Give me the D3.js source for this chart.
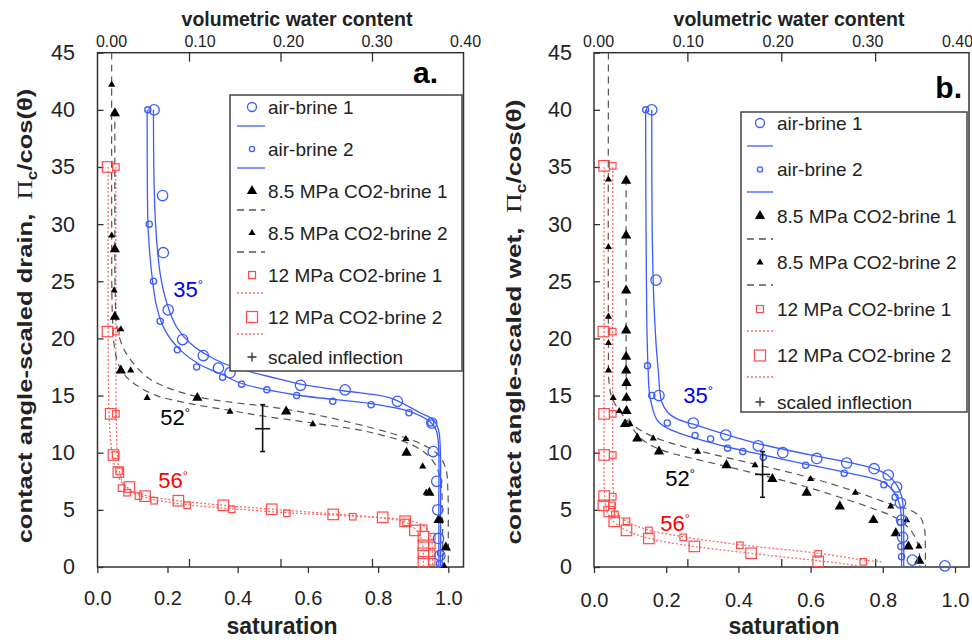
<!DOCTYPE html>
<html><head><meta charset="utf-8">
<script src="https://cdn.jsdelivr.net/npm/d3@7"></script>
<style>body{margin:0;background:#fff}svg{display:block}</style>
</head><body><svg id="chart" width="972" height="644"></svg>
<script>
// ---------------- DATA (saturation, scaled pressure) ----------------
const yTicks = [0,5,10,15,20,25,30,35,40,45];
const satTicks = [0,0.2,0.4,0.6,0.8,1.0];
const volTicks = [0,0.1,0.2,0.3,0.4];
const legendLabels = ["air-brine 1","air-brine 2","8.5 MPa CO2-brine 1","8.5 MPa CO2-brine 2","12 MPa CO2-brine 1","12 MPa CO2-brine 2","scaled inflection"];

// panel a (drain)
const aAir1 = [[0.162,40],[0.186,32.5],[0.188,27.5],[0.202,22.5],[0.243,19.9],[0.302,18.5],[0.345,17.4],[0.378,17.0],[0.579,15.9],[0.706,15.5],[0.855,14.5],[0.953,12.6],[0.957,10.1],[0.967,7.5],[0.970,5.0],[0.972,2.5],[0.976,1.0]];
const aAir2 = [[0.144,40],[0.148,30],[0.160,25],[0.179,21.5],[0.228,19.0],[0.283,17.5],[0.357,16.6],[0.411,16.0],[0.483,15.5],[0.568,15.0],[0.671,14.5],[0.78,14.2],[0.888,13.5],[0.95,12.6],[0.978,1.2],[0.975,0.3]];
const aCo2a = [[0.050,39.7],[0.050,27.8],[0.050,21.9],[0.067,17.2],[0.285,14.8],[0.538,13.6],[0.881,10.0],[0.946,6.5],[0.972,4.1],[0.993,1.7]];
const aCo2b = [[0.041,42.2],[0.041,29.0],[0.048,24.2],[0.067,20.8],[0.095,17.2],[0.142,14.8],[0.378,13.6],[0.614,12.5],[0.879,11.2],[0.927,8.8],[0.937,6.5],[0.978,4.1],[0.988,0.1]];
const aCo12a = [[0.053,35],[0.053,20.6],[0.053,13.4],[0.052,9.8],[0.062,8.4],[0.069,6.9],[0.085,6.5],[0.117,6.2],[0.162,5.8],[0.256,5.4],[0.383,5.05],[0.54,4.7],[0.728,4.4],[0.88,3.9],[0.93,3.4],[0.953,2.65],[0.953,1.9],[0.953,1.2],[0.953,0.46]];
const aCo12b = [[0.029,35],[0.029,20.6],[0.038,13.4],[0.046,9.8],[0.060,8.3],[0.091,7.0],[0.136,6.2],[0.231,5.8],[0.359,5.4],[0.497,5.05],[0.672,4.6],[0.813,4.35],[0.877,4.0],[0.905,3.2],[0.929,2.65],[0.929,1.9],[0.929,1.2],[0.929,0.46]];
const aFitAir1 = [[0.160,40],[0.1615,34],[0.167,29.5],[0.179,25.7],[0.198,23.1],[0.226,21.0],[0.264,19.6],[0.321,18.4],[0.388,17.5],[0.511,16.5],[0.579,16.0],[0.706,15.4],[0.834,14.8],[0.919,13.5],[0.957,12.9],[0.972,12.0],[0.977,10.5],[0.978,6],[0.978,0]];
const aFitAir2 = [[0.142,40],[0.1425,34],[0.145,29.5],[0.155,25.7],[0.169,22.8],[0.193,20.7],[0.236,19.0],[0.293,17.7],[0.359,16.8],[0.407,16.1],[0.568,15.05],[0.78,14.3],[0.891,13.6],[0.948,12.7],[0.965,12.0],[0.972,10.8],[0.973,6],[0.973,0]];
const aFitCo2a = [[0.050,40],[0.050,30],[0.051,24],[0.056,21],[0.066,19.8],[0.084,18.6],[0.131,16.9],[0.169,16.1],[0.285,14.9],[0.538,13.8],[0.70,12.8],[0.879,11.3],[0.94,10.5],[0.975,9.7],[0.993,8.6],[0.999,6.5],[1.0,3],[1.0,0]];
const aFitCo2b = [[0.041,45],[0.041,30],[0.043,22],[0.050,19],[0.062,17.6],[0.084,16.6],[0.112,15.9],[0.169,15.0],[0.264,14.3],[0.378,13.7],[0.473,13.2],[0.614,12.6],[0.745,12.0],[0.815,11.5],[0.88,10.9],[0.929,10.1],[0.962,9.0],[0.978,7.6],[0.983,5],[0.984,0]];
const aFitCo12a = [[0.053,35],[0.053,20],[0.054,13],[0.057,10],[0.064,8.2],[0.08,7.0],[0.117,6.3],[0.162,5.9],[0.256,5.45],[0.383,5.1],[0.54,4.75],[0.728,4.45],[0.88,4.1],[0.93,3.6],[0.95,2.7],[0.955,1.2],[0.955,0]];
const aFitCo12b = [[0.031,35],[0.031,20],[0.033,14],[0.040,10.5],[0.052,8.6],[0.07,7.4],[0.10,6.7],[0.14,6.25],[0.23,5.8],[0.36,5.4],[0.50,5.05],[0.67,4.65],[0.81,4.3],[0.875,3.95],[0.91,3.2],[0.925,2.2],[0.929,1],[0.929,0]];
const aInflection = [0.471, 12.1, 10.1, 14.2]; // s, value, low, high

// panel b (wet)
const bAir1 = [[0.160,40],[0.172,25.1],[0.180,15.0],[0.275,12.6],[0.365,11.55],[0.455,10.6],[0.523,10.0],[0.617,9.5],[0.700,9.1],[0.776,8.6],[0.815,8.05],[0.838,7.0],[0.849,5.6],[0.852,4.1],[0.855,2.6],[0.882,0.6],[0.972,0.1]];
const bAir2 = [[0.143,40],[0.148,17.6],[0.160,15.0],[0.203,12.6],[0.280,11.5],[0.323,11.2],[0.370,10.4],[0.412,10.1],[0.469,9.6],[0.586,8.9],[0.693,8.2],[0.803,7.2],[0.834,6.1],[0.849,3.9],[0.85,1.8],[0.852,0.9]];
const bCo2a = [[0.089,33.8],[0.089,29.0],[0.089,24.2],[0.089,20.7],[0.089,18.4],[0.089,17.2],[0.090,16.1],[0.090,14.8],[0.090,13.65],[0.086,12.5],[0.12,11.25],[0.18,10.1],[0.367,8.9],[0.494,7.7],[0.589,6.5],[0.681,5.3],[0.774,4.1],[0.836,2.95],[0.871,1.8],[0.901,0.55]];
const bCo2b = [[0.040,33.9],[0.040,28.0],[0.040,21.9],[0.040,19.6],[0.040,17.2],[0.053,14.8],[0.070,13.65],[0.100,12.5],[0.164,11.25],[0.287,10.1],[0.446,8.9],[0.60,7.7],[0.724,6.5],[0.822,5.3],[0.866,4.1],[0.90,1.8]];
const bCo12a = [[0.052,35.1],[0.052,20.6],[0.052,13.4],[0.052,9.8],[0.052,6.15],[0.05,5.4],[0.058,4.6],[0.090,4.0],[0.152,3.2],[0.247,2.6],[0.404,1.9],[0.621,1.15],[0.746,0.45]];
const bCo12b = [[0.028,35.1],[0.026,20.6],[0.028,13.4],[0.028,9.8],[0.028,6.2],[0.026,5.4],[0.042,4.85],[0.056,4.0],[0.090,3.2],[0.152,2.5],[0.278,1.8],[0.435,1.2],[0.621,0.5]];
const bFitAir1 = [[0.160,40],[0.161,30],[0.165,24],[0.172,19.5],[0.178,17.2],[0.187,14.5],[0.205,13.5],[0.235,12.9],[0.275,12.5],[0.365,11.6],[0.455,10.8],[0.617,9.7],[0.70,9.2],[0.776,8.6],[0.815,8.0],[0.838,7.2],[0.852,6.2],[0.857,5.0],[0.858,3],[0.858,0]];
const bFitAir2 = [[0.143,40],[0.144,30],[0.146,22],[0.150,17.2],[0.155,14.9],[0.174,12.9],[0.20,12.2],[0.238,11.7],[0.370,10.5],[0.469,9.8],[0.586,9.0],[0.693,8.3],[0.803,7.4],[0.834,6.4],[0.848,5.3],[0.852,3],[0.852,0]];
const bFitCo2a = [[0.089,34],[0.089,20],[0.090,15],[0.095,13.2],[0.11,12.0],[0.14,11.0],[0.19,10.2],[0.26,9.6],[0.367,8.8],[0.494,7.8],[0.589,7.0],[0.681,6.1],[0.774,5.1],[0.835,4.3],[0.875,3.3],[0.895,2.2],[0.902,1],[0.903,0]];
const bFitCo2b = [[0.040,45],[0.040,20],[0.042,16],[0.050,14.8],[0.07,13.7],[0.10,12.6],[0.164,11.4],[0.287,10.2],[0.446,9.0],[0.60,7.8],[0.724,6.6],[0.822,5.5],[0.875,5.0],[0.903,4.4],[0.915,3.4],[0.918,1.5],[0.918,0]];
const bFitCo12a = [[0.052,35],[0.052,10],[0.053,7],[0.058,5.3],[0.07,4.5],[0.09,4.0],[0.15,3.25],[0.247,2.65],[0.404,1.95],[0.621,1.2],[0.75,0.6],[0.797,0.45]];
const bFitCo12b = [[0.028,35],[0.028,10],[0.029,6.5],[0.035,5.0],[0.045,4.3],[0.06,3.8],[0.09,3.2],[0.152,2.5],[0.278,1.8],[0.435,1.2],[0.621,0.55],[0.70,0.25],[0.73,0.1]];
const bInflection = [0.467, 8.1, 6.1, 10.1];

// ---------------- STYLE / LAYOUT ----------------
const SANS = "'Liberation Sans', Arial, Helvetica, sans-serif";
const SERIF = "'Liberation Serif', 'Times New Roman', serif";
const BLUE = "#3d5cff", RED = "#ff4a4a", REDL = "#ff6a6a", DASH = "#555";
const svg = d3.select("#chart");
const y = d3.scaleLinear().domain([0,45]).range([567, 52.7]);

const panels = [
 {tag:"a.", tagX:438, tagY:83, frame:[97.5,52.7,463.5,567], sat:[97.3,448.3], vol:[97.5,463.5], volLab:[111,465],
  yLabX:75, yTitle:"contact angle-scaled drain,", yTitleX:25, yTitleY:316, yTitleLen:455,
  volTitleX:297, satTitleX:282, satLabY:597,
  air1:aAir1, air2:aAir2, co2a:aCo2a, co2b:aCo2b, c12a:aCo12a, c12b:aCo12b,
  fAir1:aFitAir1, fAir2:aFitAir2, fCo2a:aFitCo2a, fCo2b:aFitCo2b, f12a:aFitCo12a, f12b:aFitCo12b, infl:aInflection,
  lab35:[188,289], lab52:[175,417], lab56:[173,480],
  leg:{box:[230,95,462,371], mx:252, tx:268, lx:[237,265], rows:[107,149,191,233,275,317,357], lines:[126,168,210,252,293,334]}},
 {tag:"b.", tagX:962, tagY:98, frame:[594,52.7,969,567], sat:[594,955], vol:[593.5,969], volLab:[598,957],
  yLabX:572, yTitle:"contact angle-scaled wet,", yTitleX:514, yTitleY:322, yTitleLen:445,
  volTitleX:789, satTitleX:784, satLabY:599,
  air1:bAir1, air2:bAir2, co2a:bCo2a, co2b:bCo2b, c12a:bCo12a, c12b:bCo12b,
  fAir1:bFitAir1, fAir2:bFitAir2, fCo2a:bFitCo2a, fCo2b:bFitCo2b, f12a:bFitCo12a, f12b:bFitCo12b, infl:bInflection,
  lab35:[698,395], lab52:[680,478], lab56:[675,523],
  leg:{box:[741,112,967,412], mx:760, tx:777, lx:[747,773], rows:[123,169.5,216,262.5,309,355.5,402], lines:[146,192,239,285,331,377]}}
];

const triBig = d3.symbol(d3.symbolTriangle, 46)();
const triSmall = d3.symbol(d3.symbolTriangle, 22)();

function drawPanel(p){
  const g = svg.append("g");
  const xs = d3.scaleLinear().domain([0,1]).range(p.sat);
  const xv = d3.scaleLinear().domain([0,0.4]).range(p.vol);
  const xvl = d3.scaleLinear().domain([0,0.4]).range(p.volLab);
  const [L,T,R,B] = p.frame;

  // axes
  const yAx = g.append("g").attr("transform",`translate(${L},0)`)
    .call(d3.axisLeft(y).tickValues(yTicks).tickSize(-6).tickSizeOuter(0).tickPadding(L-p.yLabX));
  yAx.select(".domain").remove();
  const bAx = g.append("g").attr("transform",`translate(0,${B})`)
    .call(d3.axisBottom(xs).tickValues(satTicks).tickSize(6).tickSizeOuter(0).tickPadding(p.satLabY-B-12).tickFormat(d3.format(".1f")));
  bAx.select(".domain").remove();
  const bIn = g.append("g").attr("transform",`translate(0,${B})`)
    .call(d3.axisBottom(xv).tickValues([0.1,0.2,0.3]).tickSize(-8).tickFormat(""));
  bIn.select(".domain").remove();
  const tIn = g.append("g").attr("transform",`translate(0,${T})`)
    .call(d3.axisTop(xv).tickValues([0.1,0.2,0.3]).tickSize(-9).tickFormat(""));
  tIn.select(".domain").remove();
  const tLab = g.append("g").attr("transform",`translate(0,${T-6})`)
    .call(d3.axisTop(xvl).tickValues(volTicks).tickSize(0).tickPadding(0).tickFormat(d3.format(".2f")));
  tLab.select(".domain").remove();
  g.selectAll(".tick line").attr("stroke","#333").attr("stroke-width",1.3);
  yAx.selectAll("text").attr("font-size",21.5).attr("fill","#222").attr("font-family",SANS);
  bAx.selectAll("text").attr("font-size",20).attr("fill","#222").attr("font-family",SANS);
  tLab.selectAll("text").attr("font-size",16).attr("fill","#222").attr("font-family",SANS);

  g.append("rect").attr("x",L).attr("y",T).attr("width",R-L).attr("height",B-T)
    .attr("fill","none").attr("stroke","#333").attr("stroke-width",1.5);

  // titles
  g.append("text").attr("x",p.volTitleX).attr("y",26).attr("text-anchor","middle")
    .attr("font-family",SANS).attr("font-weight","bold").attr("font-size",19.5).attr("fill","#222").text("volumetric water content");
  g.append("text").attr("x",p.satTitleX).attr("y",634).attr("text-anchor","middle")
    .attr("font-family",SANS).attr("font-weight","bold").attr("font-size",23).attr("fill","#222").text("saturation");
  g.append("text").attr("x",p.tagX).attr("y",p.tagY).attr("text-anchor","end")
    .attr("font-family",SANS).attr("font-weight","bold").attr("font-size",30).attr("fill","#000").text(p.tag);

  const yt = g.append("g").attr("transform",`translate(${p.yTitleX},${p.yTitleY}) rotate(-90)`);
  const tt = yt.append("text").attr("text-anchor","middle").attr("dy","0.35em")
    .attr("font-family",SANS).attr("font-weight","bold").attr("font-size",21).attr("fill","#222");
  tt.append("tspan").text(p.yTitle+"\u00a0\u00a0");
  tt.append("tspan").attr("font-family",SERIF).attr("font-weight","normal").attr("font-size",22).text("\u03A0");
  tt.append("tspan").attr("font-size",14).attr("dy",5).text("c");
  tt.append("tspan").attr("dy",-5).text("/cos(\u03B8)");
  const len = tt.node().getComputedTextLength();
  tt.attr("transform",`scale(${p.yTitleLen/len},1)`);

  // fitted curves
  const line = d3.line().x(d=>xs(d[0])).y(d=>y(d[1])).curve(d3.curveCatmullRom.alpha(0.5));
  const curves = [
    [p.f12a, REDL, "2,2", 1.3],[p.f12b, REDL, "2,2", 1.3],
    [p.fCo2a, DASH, "7,5", 1.2],[p.fCo2b, DASH, "7,5", 1.2],
    [p.fAir1, BLUE, null, 1.3],[p.fAir2, BLUE, null, 1.3]];
  curves.forEach(([d,c,da,w])=>{
    g.append("path").datum(d).attr("d",line).attr("fill","none").attr("stroke",c)
     .attr("stroke-width",w).attr("stroke-dasharray",da);
  });

  // markers
  const sq = (data, s)=> g.append("g").selectAll("rect").data(data).join("rect")
    .attr("x",d=>xs(d[0])-s/2).attr("y",d=>y(d[1])-s/2).attr("width",s).attr("height",s)
    .attr("fill","none").attr("stroke",RED).attr("stroke-width",1.2);
  sq(p.c12b, 10.5); sq(p.c12a, 6.5);
  const tri = (data, path)=> g.append("g").selectAll("path").data(data).join("path")
    .attr("transform",d=>`translate(${xs(d[0])},${y(d[1])})`).attr("d",path).attr("fill","#000");
  tri(p.co2a, triBig); tri(p.co2b, triSmall);
  const circ = (data, r)=> g.append("g").selectAll("circle").data(data).join("circle")
    .attr("cx",d=>xs(d[0])).attr("cy",d=>y(d[1])).attr("r",r)
    .attr("fill","none").attr("stroke",BLUE).attr("stroke-width",1.3);
  circ(p.air1, 5.2); circ(p.air2, 3.1);

  // inflection
  const [is_, iv, ilo, ihi] = p.infl;
  const ig = g.append("g").attr("stroke","#111").attr("stroke-width",1.6);
  ig.append("line").attr("x1",xs(is_)).attr("x2",xs(is_)).attr("y1",y(ilo)).attr("y2",y(ihi));
  ig.append("line").attr("x1",xs(is_)-7.5).attr("x2",xs(is_)+7.5).attr("y1",y(iv)).attr("y2",y(iv));
  [ilo,ihi].forEach(v=>ig.append("line").attr("x1",xs(is_)-2.5).attr("x2",xs(is_)+2.5).attr("y1",y(v)).attr("y2",y(v)));

  // angle labels
  const angle = (pos, txt, col)=>{
    const t = g.append("text").attr("x",pos[0]).attr("y",pos[1]).attr("dy","0.35em").attr("text-anchor","middle")
      .attr("font-family",SANS).attr("font-size",22).attr("fill",col);
    t.append("tspan").text(txt);
    t.append("tspan").attr("font-size",13).attr("dy",-8).text("\u00b0");
  };
  angle(p.lab35,"35","#0000ee"); angle(p.lab52,"52","#000"); angle(p.lab56,"56","#ff0000");

  // legend
  const lg = p.leg;
  g.append("rect").attr("x",lg.box[0]).attr("y",lg.box[1]).attr("width",lg.box[2]-lg.box[0]).attr("height",lg.box[3]-lg.box[1])
    .attr("fill","#fff").attr("stroke","#444").attr("stroke-width",1.5);
  legendLabels.forEach((lab,i)=>{
    g.append("text").attr("x",lg.tx).attr("y",lg.rows[i]).attr("dy","0.36em")
      .attr("font-family",SANS).attr("font-size",19).attr("fill","#222").text(lab);
  });
  const mx = lg.mx, r = lg.rows;
  g.append("circle").attr("cx",mx).attr("cy",r[0]).attr("r",4.5).attr("fill","none").attr("stroke",BLUE).attr("stroke-width",1.3);
  g.append("circle").attr("cx",mx).attr("cy",r[1]).attr("r",2.6).attr("fill","none").attr("stroke",BLUE).attr("stroke-width",1.3);
  g.append("path").attr("transform",`translate(${mx},${r[2]})`).attr("d",triBig).attr("fill","#000");
  g.append("path").attr("transform",`translate(${mx},${r[3]})`).attr("d",triSmall).attr("fill","#000");
  g.append("rect").attr("x",mx-3.5).attr("y",r[4]-3.5).attr("width",7).attr("height",7).attr("fill","none").attr("stroke",RED).attr("stroke-width",1.2);
  g.append("rect").attr("x",mx-5.5).attr("y",r[5]-5.5).attr("width",11).attr("height",11).attr("fill","none").attr("stroke",RED).attr("stroke-width",1.2);
  g.append("path").attr("d",`M${mx-4.5},${r[6]}H${mx+4.5}M${mx},${r[6]-4.5}V${r[6]+4.5}`).attr("stroke","#333").attr("stroke-width",1.3);
  const lstyles = [[BLUE,null],[BLUE,null],[DASH,"7,5"],[DASH,"7,5"],[REDL,"2,2"],[REDL,"2,2"]];
  lg.lines.forEach((ly,i)=>{
    g.append("line").attr("x1",lg.lx[0]).attr("x2",lg.lx[1]).attr("y1",ly).attr("y2",ly)
      .attr("stroke",lstyles[i][0]).attr("stroke-width",1.3).attr("stroke-dasharray",lstyles[i][1]);
  });
}
panels.forEach(drawPanel);
</script></body></html>
